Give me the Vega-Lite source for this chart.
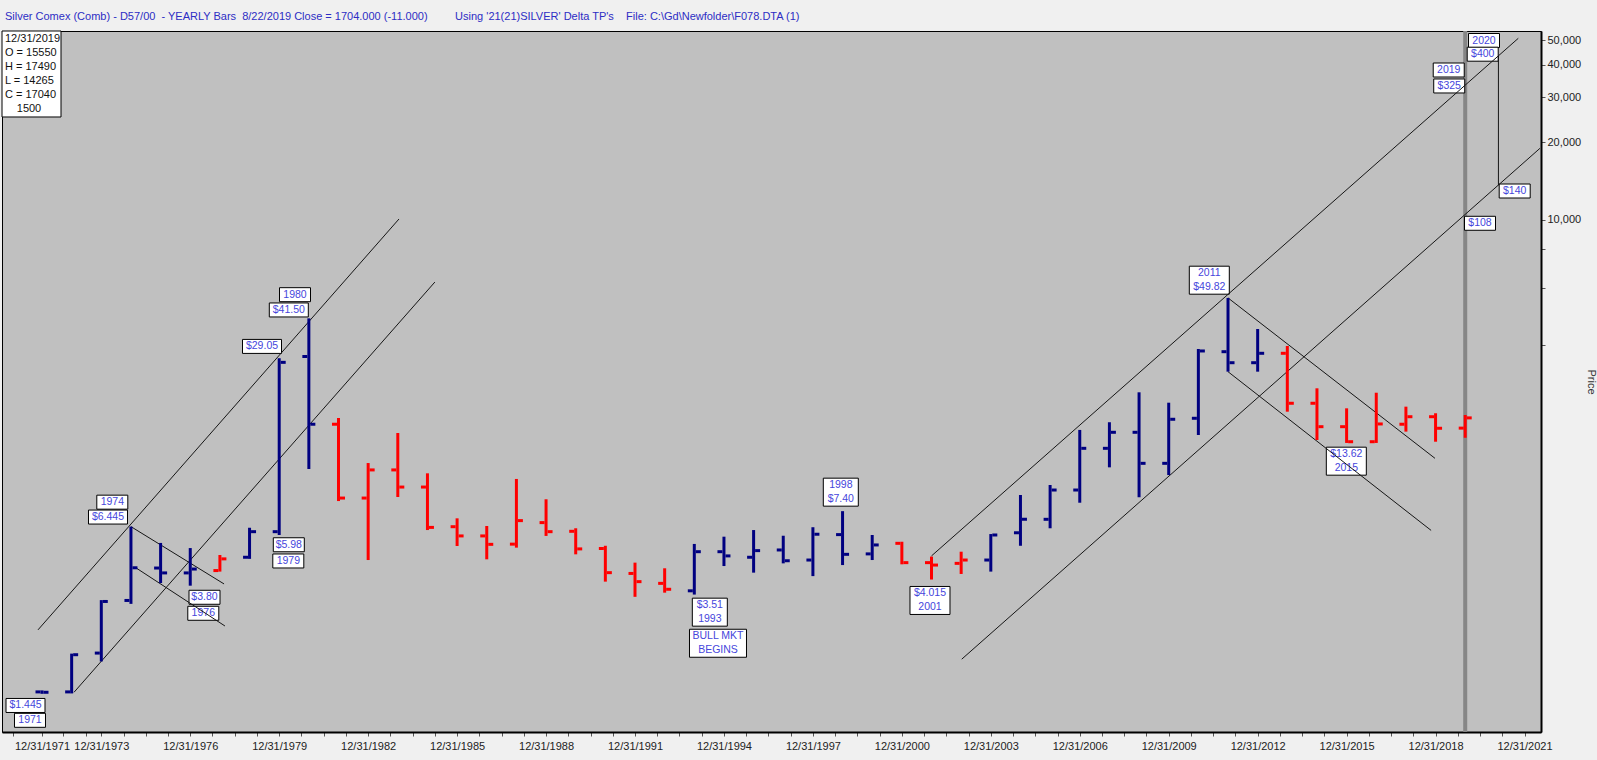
{
  "$schema": "https://vega.github.io/schema/vega-lite/v6.json",
  "width": 1539,
  "height": 701,
  "autosize": {"type": "none"},
  "padding": {"left": 2, "top": 31, "right": 56, "bottom": 28},
  "background": "#f0f0f0",
  "title": {
    "text": "Silver Comex (Comb) - D57/00\u00a0 - YEARLY Bars\u00a0 8/22/2019 Close = 1704.000 (-11.000)\u00a0\u00a0\u00a0\u00a0\u00a0\u00a0\u00a0\u00a0\u00a0Using '21(21)SILVER' Delta TP's\u00a0\u00a0\u00a0 File: C:\\Gd\\Newfolder\\F078.DTA (1)",
    "anchor": "start",
    "frame": "group",
    "offset": 12,
    "baseline": "alphabetic",
    "fontSize": 11,
    "fontWeight": "normal",
    "color": "#2d2dc4",
    "font": "Liberation Sans",
    "dx": 3,
    "dy": 14
  },
  "config": {
    "font": "Liberation Sans",
    "view": {"fill": "#c0c0c0", "stroke": "#000000", "strokeWidth": 1},
    "axis": {
      "grid": false,
      "domainColor": "#000000",
      "domainWidth": 2,
      "tickColor": "#555555",
      "tickSize": 4,
      "labelFont": "Liberation Sans",
      "labelFontSize": 11,
      "labelColor": "#222222",
      "labelOverlap": false,
      "labelFlush": false,
      "titleFont": "Liberation Sans",
      "titleFontSize": 11,
      "titleFontWeight": "normal",
      "titleColor": "#333333"
    }
  },
  "datasets": {
    "current": [{"t": 2019}],
    "bars": [
      {"t": 1971, "o": 147, "h": 149, "l": 144.5, "c": 146.5, "trend": "up"},
      {"t": 1972, "o": 147, "h": 207, "l": 145, "c": 205, "trend": "up"},
      {"t": 1973, "o": 208, "h": 334, "l": 193, "c": 330, "trend": "up"},
      {"t": 1974, "o": 333, "h": 644.5, "l": 323, "c": 446, "trend": "up"},
      {"t": 1975, "o": 445, "h": 557, "l": 389, "c": 426, "trend": "up"},
      {"t": 1976, "o": 426, "h": 532, "l": 380, "c": 441, "trend": "up"},
      {"t": 1977, "o": 435, "h": 500, "l": 431, "c": 483, "trend": "down"},
      {"t": 1978, "o": 490, "h": 638, "l": 483, "c": 616, "trend": "up"},
      {"t": 1979, "o": 616, "h": 2905, "l": 598, "c": 2800, "trend": "up"},
      {"t": 1980, "o": 2950, "h": 4150, "l": 1079, "c": 1610, "trend": "up"},
      {"t": 1981, "o": 1610, "h": 1702, "l": 810, "c": 832, "trend": "down"},
      {"t": 1982, "o": 832, "h": 1138, "l": 478, "c": 1070, "trend": "down"},
      {"t": 1983, "o": 1070, "h": 1489, "l": 840, "c": 918, "trend": "down"},
      {"t": 1984, "o": 918, "h": 1038, "l": 625, "c": 640, "trend": "down"},
      {"t": 1985, "o": 644, "h": 694, "l": 542, "c": 593, "trend": "down"},
      {"t": 1986, "o": 593, "h": 648, "l": 481, "c": 550, "trend": "down"},
      {"t": 1987, "o": 551, "h": 987, "l": 534, "c": 680, "trend": "down"},
      {"t": 1988, "o": 668, "h": 823, "l": 593, "c": 616, "trend": "down"},
      {"t": 1989, "o": 618, "h": 635, "l": 503, "c": 528, "trend": "down"},
      {"t": 1990, "o": 530, "h": 543, "l": 394, "c": 427, "trend": "down"},
      {"t": 1991, "o": 424, "h": 467, "l": 344, "c": 394, "trend": "down"},
      {"t": 1992, "o": 388, "h": 444, "l": 357, "c": 368, "trend": "down"},
      {"t": 1993, "o": 363, "h": 552, "l": 351, "c": 515, "trend": "up"},
      {"t": 1994, "o": 515, "h": 589, "l": 453, "c": 496, "trend": "up"},
      {"t": 1995, "o": 490, "h": 625, "l": 427, "c": 520, "trend": "up"},
      {"t": 1996, "o": 523, "h": 594, "l": 464, "c": 475, "trend": "up"},
      {"t": 1997, "o": 478, "h": 641, "l": 414, "c": 602, "trend": "up"},
      {"t": 1998, "o": 600, "h": 740, "l": 457, "c": 503, "trend": "up"},
      {"t": 1999, "o": 505, "h": 598, "l": 478, "c": 547, "trend": "up"},
      {"t": 2000, "o": 555, "h": 563, "l": 460, "c": 467, "trend": "down"},
      {"t": 2001, "o": 467, "h": 493, "l": 401.5, "c": 457, "trend": "down"},
      {"t": 2002, "o": 464, "h": 515, "l": 422, "c": 478, "trend": "down"},
      {"t": 2003, "o": 478, "h": 603, "l": 431, "c": 598, "trend": "up"},
      {"t": 2004, "o": 610, "h": 855, "l": 543, "c": 688, "trend": "up"},
      {"t": 2005, "o": 688, "h": 935, "l": 635, "c": 894, "trend": "up"},
      {"t": 2006, "o": 894, "h": 1530, "l": 798, "c": 1298, "trend": "up"},
      {"t": 2007, "o": 1298, "h": 1639, "l": 1095, "c": 1498, "trend": "up"},
      {"t": 2008, "o": 1498, "h": 2142, "l": 838, "c": 1135, "trend": "up"},
      {"t": 2009, "o": 1135, "h": 1952, "l": 1022, "c": 1683, "trend": "up"},
      {"t": 2010, "o": 1698, "h": 3155, "l": 1462, "c": 3100, "trend": "up"},
      {"t": 2011, "o": 3080, "h": 4982, "l": 2576, "c": 2791, "trend": "up"},
      {"t": 2012, "o": 2791, "h": 3773, "l": 2576, "c": 3036, "trend": "up"},
      {"t": 2013, "o": 3036, "h": 3241, "l": 1801, "c": 1942, "trend": "down"},
      {"t": 2014, "o": 1942, "h": 2220, "l": 1398, "c": 1575, "trend": "down"},
      {"t": 2015, "o": 1575, "h": 1856, "l": 1362, "c": 1377, "trend": "down"},
      {"t": 2016, "o": 1377, "h": 2134, "l": 1362, "c": 1614, "trend": "down"},
      {"t": 2017, "o": 1610, "h": 1884, "l": 1507, "c": 1722, "trend": "down"},
      {"t": 2018, "o": 1722, "h": 1776, "l": 1377, "c": 1553, "trend": "down"},
      {"t": 2019, "o": 1555, "h": 1749, "l": 1426.5, "c": 1704, "trend": "down"}
    ],
    "lines": [
      {"t1": 1970.865, "p1": 256, "t2": 1983.04, "p2": 10090},
      {"t1": 1972.08, "p1": 146.5, "t2": 1984.25, "p2": 5741},
      {"t1": 1974.0, "p1": 644.5, "t2": 1977.14, "p2": 386},
      {"t1": 1974.14, "p1": 448, "t2": 1977.17, "p2": 265},
      {"t1": 2001.0, "p1": 496, "t2": 2020.79, "p2": 50770},
      {"t1": 2002.02, "p1": 197, "t2": 2021.52, "p2": 18980},
      {"t1": 2011.0, "p1": 4982, "t2": 2017.98, "p2": 1187},
      {"t1": 2011.0, "p1": 2576, "t2": 2017.85, "p2": 623},
      {"t1": 2020.12, "p1": 43350, "t2": 2020.12, "p2": 13650}
    ],
    "labels": [
      {"t": 1979.533, "p": 5128, "text": "1980"},
      {"t": 1979.324, "p": 4473, "text": "$41.50"},
      {"t": 1978.42, "p": 3229, "text": "$29.05"},
      {"t": 1973.371, "p": 802, "text": "1974"},
      {"t": 1973.226, "p": 702, "text": "$6.445"},
      {"t": 1970.444, "p": 130.2, "text": "$1.445"},
      {"t": 1970.595, "p": 114.0, "text": "1971"},
      {"t": 1979.324, "p": 548, "text": "$5.98"},
      {"t": 1979.307, "p": 474, "text": "1979"},
      {"t": 1976.481, "p": 342.6, "text": "$3.80"},
      {"t": 1976.44, "p": 296.9, "text": "1976"},
      {"t": 1993.523, "p": 299.9, "text": "$3.51\n1993"},
      {"t": 1993.799, "p": 227.1, "text": "BULL MKT\nBEGINS"},
      {"t": 1997.941, "p": 877, "text": "1998\n$7.40"},
      {"t": 2000.949, "p": 333, "text": "$4.015\n2001"},
      {"t": 2010.369, "p": 5837, "text": "2011\n$49.82"},
      {"t": 2014.99, "p": 1157, "text": "$13.62\n2015"},
      {"t": 2019.634, "p": 49780, "text": "2020"},
      {"t": 2019.59, "p": 44050, "text": "$400"},
      {"t": 2018.444, "p": 38240, "text": "2019"},
      {"t": 2018.461, "p": 33150, "text": "$325"},
      {"t": 2020.669, "p": 12960, "text": "$140"},
      {"t": 2019.499, "p": 9710, "text": "$108"}
    ],
    "infobox": [{"t": 1970.646, "p": 36900}],
    "infotext": [
      {"t": 1969.752, "p": 39220, "text": "12/31/2019\nO = 15550\nH = 17490\nL = 14265\nC = 17040"}
    ],
    "infocount": [{"t": 1970.5616, "p": 26990, "text": "1500"}]
  },
  "layer": [
    {
      "data": {"name": "current"},
      "mark": {"type": "rule", "color": "#868686", "strokeWidth": 4},
      "encoding": {
        "x": {
          "field": "t", "type": "quantitative", "title": null,
          "scale": {"domain": [1969.651, 2021.556], "nice": false, "zero": false},
          "axis": {
            "orient": "bottom",
            "tickCount": 500,
            "values": [1970.03, 1971, 1971.72, 1972.5, 1973, 1973.75, 1974.5, 1975.25, 1976, 1976.75, 1977.5, 1978.25, 1979, 1979.75, 1980.5, 1981.25, 1982, 1982.75, 1983.5, 1984.25, 1985, 1985.75, 1986.5, 1987.25, 1988, 1988.75, 1989.5, 1990.25, 1991, 1991.75, 1992.5, 1993.25, 1994, 1994.75, 1995.5, 1996.25, 1997, 1997.75, 1998.5, 1999.25, 2000, 2000.75, 2001.5, 2002.25, 2003, 2003.75, 2004.5, 2005.25, 2006, 2006.75, 2007.5, 2008.25, 2009, 2009.75, 2010.5, 2011.25, 2012, 2012.75, 2013.5, 2014.25, 2015, 2015.75, 2016.5, 2017.25, 2018, 2018.75, 2019.5, 2020.25, 2021],
            "labelExpr": "(datum.value % 1 == 0 && (datum.value == 1971 || (datum.value - 1973) % 3 == 0)) ? '12/31/' + datum.value : ''",
            "labelOverlap": false,
            "labelFlush": false,
            "labelPadding": 4
          }
        }
      }
    },
    {
      "data": {"name": "labels"},
      "layer": [
        {
          "transform": [{"filter": "indexof(datum.text, '\\n') < 0 && length(datum.text) <= 5"}],
          "mark": {"type": "point", "shape": "M-1,-0.4516H1V0.4516H-1Z", "size": 961, "filled": true, "fill": "#ffffff", "stroke": "#000000", "strokeWidth": 1, "opacity": 1}
        },
        {
          "transform": [{"filter": "indexof(datum.text, '\\n') < 0 && length(datum.text) > 5"}],
          "mark": {"type": "point", "shape": "M-1,-0.359H1V0.359H-1Z", "size": 1521, "filled": true, "fill": "#ffffff", "stroke": "#000000", "strokeWidth": 1, "opacity": 1}
        },
        {
          "transform": [{"filter": "indexof(datum.text, '\\n') >= 0 && length(datum.text) <= 10"}],
          "mark": {"type": "point", "shape": "M-1,-0.8H1V0.8H-1Z", "size": 1225, "filled": true, "fill": "#ffffff", "stroke": "#000000", "strokeWidth": 1, "opacity": 1}
        },
        {
          "transform": [{"filter": "indexof(datum.text, '\\n') >= 0 && length(datum.text) == 11"}],
          "mark": {"type": "point", "shape": "M-1,-0.7H1V0.7H-1Z", "size": 1600, "filled": true, "fill": "#ffffff", "stroke": "#000000", "strokeWidth": 1, "opacity": 1}
        },
        {
          "transform": [{"filter": "indexof(datum.text, '\\n') >= 0 && length(datum.text) > 11"}],
          "mark": {"type": "point", "shape": "M-1,-0.4912H1V0.4912H-1Z", "size": 3249, "filled": true, "fill": "#ffffff", "stroke": "#000000", "strokeWidth": 1, "opacity": 1}
        },
        {
          "transform": [{"filter": "indexof(datum.text, '\\n') < 0"}],
          "mark": {"type": "text", "align": "center", "baseline": "middle", "fontSize": 10.5, "color": "#4646dc", "font": "Liberation Sans"},
          "encoding": {"text": {"field": "text", "type": "nominal"}}
        },
        {
          "transform": [{"filter": "indexof(datum.text, '\\n') >= 0"}],
          "mark": {"type": "text", "align": "center", "baseline": "middle", "lineBreak": "\n", "lineHeight": 14, "dy": -7, "fontSize": 10.5, "color": "#4646dc", "font": "Liberation Sans"},
          "encoding": {"text": {"field": "text", "type": "nominal"}}
        }
      ],
      "encoding": {
        "x": {"field": "t", "type": "quantitative", "title": null, "scale": {"domain": [1969.651, 2021.556], "nice": false, "zero": false}},
        "y": {"field": "p", "type": "quantitative", "title": "Price", "scale": {"type": "log", "domain": [102.7, 54200], "nice": false}}
      }
    },
    {
      "data": {"name": "lines"},
      "mark": {"type": "rule", "color": "#161616", "strokeWidth": 1},
      "encoding": {
        "x": {"field": "t1", "type": "quantitative", "title": null, "scale": {"domain": [1969.651, 2021.556], "nice": false, "zero": false}},
        "x2": {"field": "t2"},
        "y": {"field": "p1", "type": "quantitative", "title": "Price", "scale": {"type": "log", "domain": [102.7, 54200], "nice": false}},
        "y2": {"field": "p2"}
      }
    },
    {
      "data": {"name": "bars"},
      "encoding": {
        "x": {"field": "t", "type": "quantitative", "title": null, "scale": {"domain": [1969.651, 2021.556], "nice": false, "zero": false}},
        "color": {"field": "trend", "type": "nominal", "scale": {"domain": ["up", "down"], "range": ["#000080", "#ff0000"]}, "legend": null}
      },
      "layer": [
        {
          "mark": {"type": "rule", "strokeWidth": 3},
          "encoding": {
            "y": {
              "field": "l", "type": "quantitative", "title": "Price",
              "scale": {"type": "log", "domain": [102.7, 54200], "nice": false},
              "axis": {
                "orient": "right",
                "tickCount": 100,
                "values": [3260, 5460, 7740, 10000, 20000, 30000, 40000, 50000],
                "labelExpr": "datum.value >= 10000 ? format(datum.value, ',') : ''",
                "labelPadding": 2,
                "titlePadding": 5,
                "labelOverlap": false,
                "labelFlush": false
              }
            },
            "y2": {"field": "h"}
          }
        },
        {
          "mark": {"type": "tick", "orient": "horizontal", "size": 5, "thickness": 3, "xOffset": -4, "opacity": 1},
          "encoding": {"y": {"field": "o", "type": "quantitative", "title": "Price", "scale": {"type": "log", "domain": [102.7, 54200], "nice": false}}}
        },
        {
          "mark": {"type": "tick", "orient": "horizontal", "size": 5, "thickness": 3, "xOffset": 4, "opacity": 1},
          "encoding": {"y": {"field": "c", "type": "quantitative", "title": "Price", "scale": {"type": "log", "domain": [102.7, 54200], "nice": false}}}
        }
      ]
    },
    {
      "data": {"name": "infobox"},
      "mark": {"type": "point", "shape": "M-1,-1.4576H1V1.4576H-1Z", "size": 3481, "filled": true, "fill": "#ffffff", "stroke": "#000000", "strokeWidth": 1, "opacity": 1},
      "encoding": {
        "x": {"field": "t", "type": "quantitative", "title": null, "scale": {"domain": [1969.651, 2021.556], "nice": false, "zero": false}},
        "y": {"field": "p", "type": "quantitative", "title": "Price", "scale": {"type": "log", "domain": [102.7, 54200], "nice": false}}
      }
    },
    {
      "data": {"name": "infotext"},
      "mark": {"type": "text", "align": "left", "baseline": "middle", "lineBreak": "\n", "lineHeight": 14, "dy": -28, "fontSize": 11, "color": "#111111", "font": "Liberation Sans"},
      "encoding": {
        "x": {"field": "t", "type": "quantitative", "title": null, "scale": {"domain": [1969.651, 2021.556], "nice": false, "zero": false}},
        "y": {"field": "p", "type": "quantitative", "title": "Price", "scale": {"type": "log", "domain": [102.7, 54200], "nice": false}},
        "text": {"field": "text", "type": "nominal"}
      }
    },
    {
      "data": {"name": "infocount"},
      "mark": {"type": "text", "align": "center", "baseline": "middle", "fontSize": 11, "color": "#111111", "font": "Liberation Sans"},
      "encoding": {
        "x": {"field": "t", "type": "quantitative", "title": null, "scale": {"domain": [1969.651, 2021.556], "nice": false, "zero": false}},
        "y": {"field": "p", "type": "quantitative", "title": "Price", "scale": {"type": "log", "domain": [102.7, 54200], "nice": false}},
        "text": {"field": "text", "type": "nominal"}
      }
    }
  ]
}
